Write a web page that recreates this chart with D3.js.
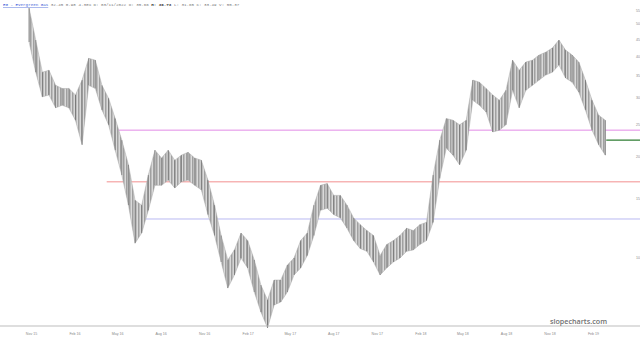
<!DOCTYPE html>
<html>
<head>
<meta charset="utf-8">
<script src="https://cdn.jsdelivr.net/npm/d3@7"></script>
<style>
  html, body { margin: 0; padding: 0; background: #fff; }
  svg { display: block; }
</style>
</head>
<body>
<div id="chart"></div>
<script>
// ===============================================================
// Data (bi-weekly bars)
// ===============================================================
const firstBar = new Date(2015, 9, 28);
const barStepDays = 14;

const highs = [55.7, 44.7, 35.8, 36.3, 32.7, 32.0, 32.0, 30.6, 33.9, 39.4,
  38.9, 32.7, 29.9, 26.0, 22.4, 18.9, 14.8, 14.3, 17.6, 20.9,
  19.8, 20.9, 19.5, 20.2, 20.6, 19.8, 19.5, 17.0, 14.3, 11.6,
  9.80, 10.5, 11.8, 11.2, 9.80, 8.24, 7.43, 8.53, 8.53, 9.46,
  9.93, 11.2, 11.8, 14.3, 16.4, 16.6, 15.3, 15.3, 14.3, 13.1,
  12.5, 12.0, 11.6, 10.1, 10.9, 11.2, 11.6, 12.2, 12.0, 12.5,
  12.7, 17.6, 22.4, 26.0, 25.7, 24.9, 25.7, 33.9, 33.4, 32.0,
  30.6, 29.5, 31.6, 38.9, 36.3, 38.4, 38.9, 40.3, 41.1, 42.3,
  44.7, 41.7, 40.3, 38.4, 33.9, 29.5, 26.6, 25.7];

const lows = [44.1, 35.8, 30.2, 30.6, 28.0, 28.5, 28.0, 25.7, 21.7, 32.7,
  32.0, 27.6, 24.9, 20.9, 17.6, 14.3, 11.0, 11.8, 13.8, 16.4,
  16.4, 17.0, 16.1, 16.8, 17.0, 16.4, 15.9, 13.4, 11.6, 9.66,
  8.07, 8.83, 9.93, 9.27, 7.85, 6.84, 6.13, 7.18, 7.33, 7.85,
  8.83, 9.27, 10.1, 11.6, 13.8, 14.0, 13.4, 13.1, 12.2, 11.2,
  10.6, 10.4, 9.66, 8.83, 9.27, 9.66, 9.93, 10.4, 10.5, 10.9,
  11.2, 12.7, 17.2, 21.2, 20.2, 18.9, 20.9, 29.5, 28.5, 27.2,
  23.7, 24.0, 24.9, 31.6, 28.0, 31.6, 32.7, 33.9, 35.1, 35.8,
  37.6, 34.4, 33.4, 31.2, 27.6, 24.0, 21.7, 20.2];

const yTicks = [10, 15, 20, 25, 30, 35, 40, 45, 50, 55];

// horizontal levels: [price, start date, colour]
const levels = [
  {price: 24.0, from: new Date(2016, 3, 20), color: '#e28be6'},
  {price: 16.8, from: new Date(2016, 3, 9), color: '#f29090'},
  {price: 13.0, from: new Date(2016, 5, 8), color: '#b9b9f2'}
];
const lastPrice = {price: 22.4, from: new Date(2019, 2, 1)};

const header = {
  symbol: 'EG - Evergreen Gas',
  quote: '32.45 0.98 4.38% D: 03/11/2022 O: 35.66 ',
  high: 'H: 36.73',
  rest: ' L: 31.65 C: 33.49 V: 55.37'
};

const bars = highs.map((h, i) => ({
  date: d3.timeDay.offset(firstBar, i * barStepDays),
  high: h,
  low: lows[i]
}));

// ===============================================================
// Layout
// ===============================================================
const width = 640, height = 341;
const axisY = 326;

const svg = d3.select('#chart').append('svg')
  .attr('width', width)
  .attr('height', height);

const x = d3.scaleTime()
  .domain([new Date(2015, 10, 1), new Date(2019, 1, 1)])
  .range([31, 593]);

const y = d3.scaleLog()
  .domain([10, 55])
  .range([257, 10]);

// dense vertical hatching to mimic daily OHLC bars
const pattern = svg.append('defs').append('pattern')
  .attr('id', 'ticks')
  .attr('patternUnits', 'userSpaceOnUse')
  .attr('width', 1.5)
  .attr('height', 4);
pattern.append('rect')
  .attr('width', 1.5).attr('height', 4)
  .attr('fill', '#e8e8e8');
pattern.append('rect')
  .attr('width', 0.7).attr('height', 4)
  .attr('fill', '#8c8c8c');

// ===============================================================
// Levels
// ===============================================================
svg.selectAll('line.level')
  .data(levels)
  .enter().append('line')
  .attr('class', 'level')
  .attr('x1', d => x(d.from))
  .attr('x2', width)
  .attr('y1', d => y(d.price))
  .attr('y2', d => y(d.price))
  .attr('stroke', d => d.color)
  .attr('stroke-width', 1);

// ===============================================================
// Price bars
// ===============================================================
const band = d3.area()
  .x(d => x(d.date))
  .y0(d => y(d.low))
  .y1(d => y(d.high));

svg.append('path')
  .datum(bars)
  .attr('d', band)
  .attr('fill', 'url(#ticks)')
  .attr('stroke', '#a8a8a8')
  .attr('stroke-width', 0.5);

svg.selectAll('line.bar')
  .data(bars)
  .enter().append('line')
  .attr('class', 'bar')
  .attr('x1', d => x(d.date))
  .attr('x2', d => x(d.date))
  .attr('y1', d => y(d.high))
  .attr('y2', d => y(d.low))
  .attr('stroke', '#6a6a6a')
  .attr('stroke-width', 0.7);

svg.append('line')
  .attr('x1', x(lastPrice.from))
  .attr('x2', width)
  .attr('y1', y(lastPrice.price))
  .attr('y2', y(lastPrice.price))
  .attr('stroke', '#2e7d32')
  .attr('stroke-width', 1.3);

// ===============================================================
// Axes
// ===============================================================
svg.append('line')
  .attr('x1', 0).attr('x2', width)
  .attr('y1', axisY).attr('y2', axisY)
  .attr('stroke', '#bdbdbd');

const xTicks = d3.timeMonth.range(new Date(2015, 10, 1), new Date(2019, 1, 2), 3);

svg.append('g')
  .attr('transform', `translate(0,${axisY})`)
  .call(d3.axisBottom(x)
    .tickValues(xTicks)
    .tickFormat(d3.timeFormat('%b %y'))
    .tickSize(0)
    .tickPadding(6))
  .call(g => g.select('.domain').remove())
  .call(g => g.selectAll('text')
    .attr('fill', '#8a8a8a')
    .attr('font-family', 'Liberation Sans, sans-serif')
    .attr('font-size', 3.6));

svg.append('g')
  .attr('transform', `translate(${width - 4},0)`)
  .call(d3.axisRight(y)
    .tickValues(yTicks)
    .tickFormat(d3.format('d'))
    .tickSize(0)
    .tickPadding(0))
  .call(g => g.select('.domain').remove())
  .call(g => g.selectAll('text')
    .attr('fill', '#8a8a8a')
    .attr('font-family', 'Liberation Sans, sans-serif')
    .attr('font-size', 3.6));

// ===============================================================
// Text
// ===============================================================
const title = svg.append('text')
  .attr('x', 3)
  .attr('y', 6)
  .attr('font-family', 'Liberation Mono, monospace')
  .attr('font-size', 4.2);

title.append('tspan')
  .text(header.symbol)
  .attr('fill', '#3b5bd6')
  .attr('text-decoration', 'underline');
title.append('tspan').text(' ' + header.quote).attr('fill', '#7a7a7a');
title.append('tspan').text(header.high).attr('fill', '#333').attr('font-weight', 'bold');
title.append('tspan').text(header.rest).attr('fill', '#7a7a7a');

svg.append('text')
  .attr('x', 607)
  .attr('y', 324)
  .attr('text-anchor', 'end')
  .attr('font-family', 'Open Sans, sans-serif')
  .attr('font-weight', 600)
  .attr('font-size', 7.2)
  .attr('fill', '#6f6f6f')
  .text('slopecharts.com');
</script>
</body>
</html>
